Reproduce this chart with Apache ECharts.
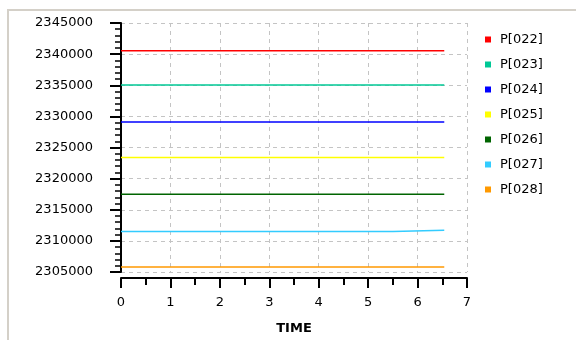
<!DOCTYPE html>
<html lang="en">
<head>
    <meta charset="utf-8">
    <title>P series vs TIME</title>
    <script src="https://cdn.jsdelivr.net/npm/echarts@6/dist/echarts.min.js"></script>
    <style>
        body { margin: 0; background: #fff; }
        #frame { position: absolute; left: 7px; top: 9px; width: 580px; height: 340px;
                 border-left: 2px solid #d4d0c8; border-top: 2px solid #d4d0c8; }
        #main { position: absolute; left: 0; top: 0; width: 576px; height: 340px; }
    </style>
</head>
<body>
<div id="frame"></div>
<div id="main"></div>
<script type="text/javascript">
    // data
    const names = ['P[022]', 'P[023]', 'P[024]', 'P[025]', 'P[026]', 'P[027]', 'P[028]'];
    const colors = ['#ff0000', '#00c896', '#0000ff', '#ffff00', '#006400', '#33ccff', '#ff9900'];
    const time = [0, 6.54];
    const p022 = [2340550, 2340550];
    const p023 = [2335050, 2335050];
    const p024 = [2329100, 2329100];
    const p025 = [2323400, 2323400];
    const p026 = [2317500, 2317500];
    const time027 = [0, 5.5, 5.5, 6.54];
    const p027 = [2311500, 2311500, 2311700, 2311700];
    const p028 = [2305800, 2305800];
    const xTicks = [0, 1, 2, 3, 4, 5, 6, 7];
    const yTicks = [2305000, 2310000, 2315000, 2320000, 2325000, 2330000, 2335000, 2340000, 2345000];

    const values = [p022, p023, p024, p025, p026, p027, p028];
    const FONT = 'DejaVu Sans';

    let myChart = echarts.init(document.getElementById('main'), null, {renderer: 'canvas'});
    const series = names.map(function (n, i) {
        const xs = (n === 'P[027]') ? time027 : time;
        return {
            name: n,
            type: 'line',
            data: xs.map(function (t, k) { return [t, values[i][k]]; }),
            symbol: 'none',
            color: colors[i],
            lineStyle: {width: 1.5, color: colors[i]},
            animation: false
        };
    });

    const option = {
        backgroundColor: 'transparent',
        animation: false,
        grid: {left: 121, right: 109, top: 23, bottom: 64},
        legend: {
            orient: 'vertical',
            left: 480,
            top: 27,
            itemWidth: 6,
            itemHeight: 6,
            itemGap: 10,
            icon: 'rect',
            data: names,
            textStyle: {fontFamily: FONT, fontSize: 13, color: '#000', padding: [0, 0, 0, 4], lineHeight: 15}
        },
        xAxis: {
            type: 'value',
            min: xTicks[0],
            max: xTicks[xTicks.length - 1],
            interval: 1,
            offset: 6,
            name: 'TIME',
            nameLocation: 'middle',
            nameGap: 44,
            nameTextStyle: {fontFamily: FONT, fontSize: 13, fontWeight: 'bold', color: '#000'},
            axisLine: {show: true, lineStyle: {color: '#000', width: 2}},
            axisTick: {show: true, length: 10, lineStyle: {color: '#000', width: 2}},
            minorTick: {show: true, splitNumber: 2, length: 7, lineStyle: {color: '#000', width: 2}},
            axisLabel: {fontFamily: FONT, fontSize: 13, color: '#000', margin: 18},
            splitLine: {show: true, lineStyle: {color: '#c4c4c4', type: [4, 4], width: 1}}
        },
        yAxis: {
            type: 'value',
            min: yTicks[0],
            max: yTicks[yTicks.length - 1],
            interval: 5000,
            offset: 6,
            axisLine: {show: true, lineStyle: {color: '#000', width: 2}},
            axisTick: {show: true, length: 11, lineStyle: {color: '#000', width: 2}},
            minorTick: {show: true, splitNumber: 5, length: 6, lineStyle: {color: '#000', width: 1.5}},
            axisLabel: {
                fontFamily: FONT, fontSize: 13, color: '#000', margin: 22,
                formatter: function (v) { return String(v); }
            },
            splitLine: {show: true, lineStyle: {color: '#c4c4c4', type: [4, 4], width: 1}}
        },
        series: series
    };
    myChart.setOption(option);
</script>
</body>
</html>
